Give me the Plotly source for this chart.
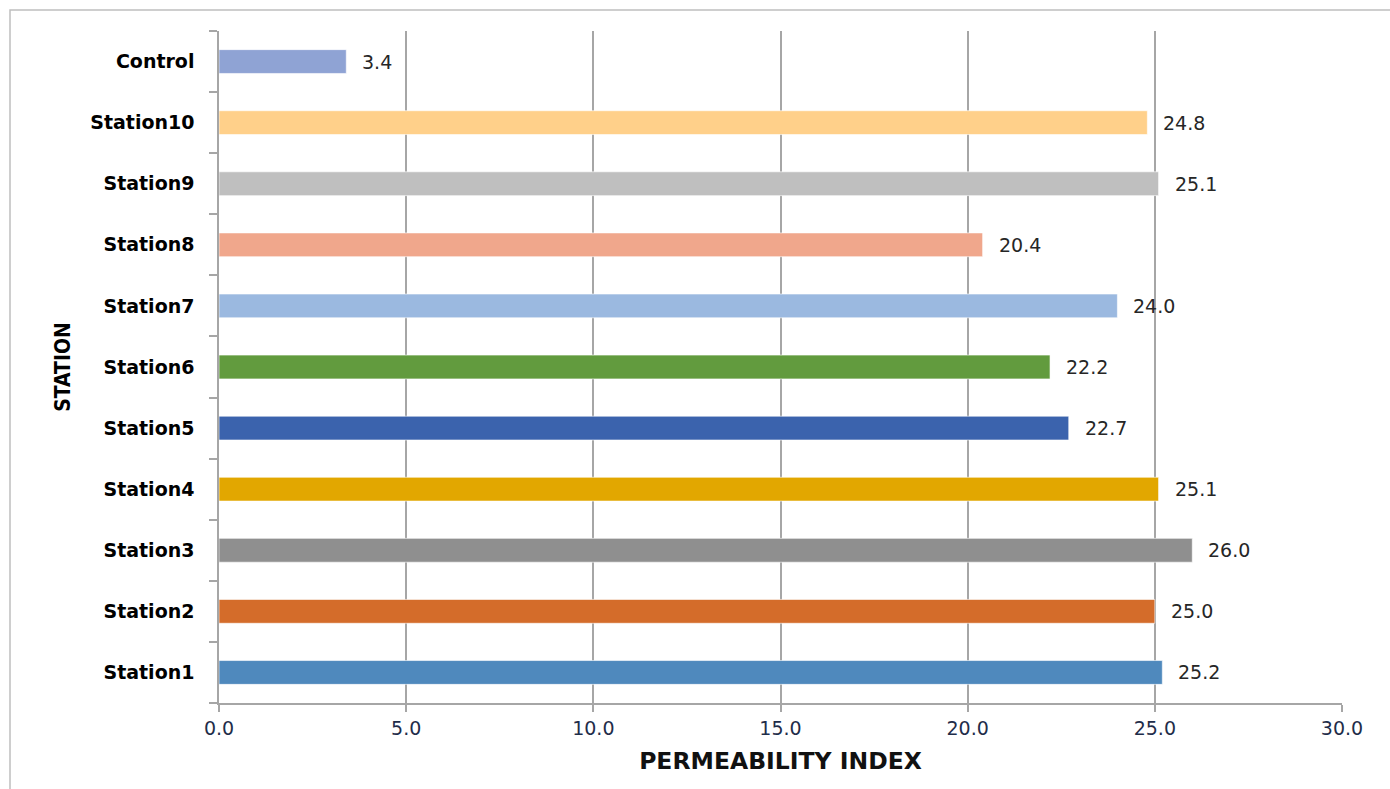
import plotly.graph_objects as go

# Permeability index per sampling station
stations = ["Station1", "Station2", "Station3", "Station4", "Station5",
            "Station6", "Station7", "Station8", "Station9", "Station10", "Control"]
permeability = [25.2, 25.0, 26.0, 25.1, 22.7, 22.2, 24.0, 20.4, 25.1, 24.8, 3.4]
bar_colors = ["#4F89BD", "#D46C2A", "#8F8F8F", "#E2A700", "#3B63AD",
              "#629B3E", "#9BB9E0", "#F0A78C", "#BFBFBF", "#FFD08A", "#8FA3D4"]
x_ticks = [0, 5, 10, 15, 20, 25, 30]

L, R, T, B = 219, 48, 31, 86
W, H = 1390, 789
plot_w = W - L - R
plot_h = H - T - B

fig = go.Figure()
fig.add_trace(go.Bar(
    x=permeability,
    y=stations,
    orientation="h",
    marker=dict(color=bar_colors, line=dict(color="rgba(255,255,255,0.6)", width=1)),
    width=0.39,
    hoverinfo="x+y",
))

# value labels just past the end of each bar
for s, v in zip(stations, permeability):
    fig.add_annotation(
        x=v, y=s, text=f"{v:.1f}", showarrow=False,
        xanchor="left", yanchor="middle", xshift=14,
        font=dict(family="DejaVu Sans", size=19, color="#262626"),
    )

# outer chart frame
fig.add_shape(
    type="rect", xref="paper", yref="paper",
    x0=(10 - L) / plot_w, x1=1 + (R + 20) / plot_w,
    y0=-(B + 20) / plot_h, y1=1 + (T - 10) / plot_h,
    line=dict(color="#BFBFBF", width=1.5), fillcolor="rgba(0,0,0,0)",
    layer="below",
)

fig.update_layout(
    width=W, height=H,
    margin=dict(l=L, r=R, t=T, b=B, pad=0),
    plot_bgcolor="white", paper_bgcolor="white",
    showlegend=False,
    font=dict(family="DejaVu Sans", color="#262626"),
    xaxis=dict(
        range=[0, 30],
        tickvals=x_ticks,
        ticktext=[f"{t:.1f}" for t in x_ticks],
        tickfont=dict(family="DejaVu Sans", size=19, color="#1F2D4A"),
        showgrid=True, gridcolor="#A6A6A6", gridwidth=1.5,
        showline=True, linecolor="#A6A6A6", linewidth=1.5,
        ticks="outside", ticklen=7, tickcolor="#A6A6A6", tickwidth=1.5,
        zeroline=False,
        title=dict(text="<b>PERMEABILITY INDEX</b>", standoff=15,
                   font=dict(family="DejaVu Sans", size=23.5, color="#111111")),
    ),
    yaxis=dict(
        type="category",
        categoryorder="array", categoryarray=stations,
        range=[-0.5, len(stations) - 0.5],
        tickfont=dict(family="DejaVu Sans", size=19, color="#000000", weight="bold"),
        showgrid=False,
        showline=True, linecolor="#A6A6A6", linewidth=1.5,
        ticks="outside", tickson="boundaries", ticklen=8,
        tickcolor="#A6A6A6", tickwidth=1.5,
        ticklabelstandoff=19,
        title=dict(text="<b>STATION</b>", standoff=14,
                   font=dict(family="DejaVu Sans Condensed", size=21, color="#000000")),
    ),
)

fig.write_html("out.html")
